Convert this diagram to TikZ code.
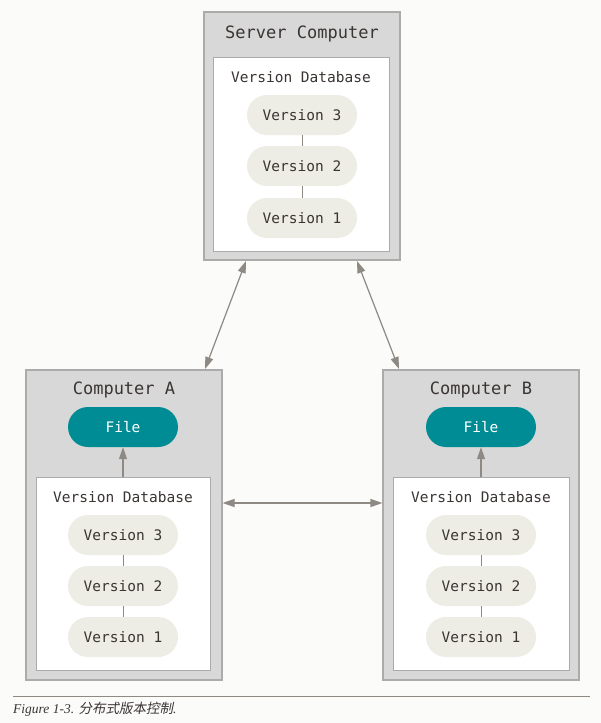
\documentclass[tikz,border=0pt]{standalone}
\usepackage{fontspec}
\setmonofont{DejaVu Sans Mono}
\setmainfont{Liberation Serif}
\newfontfamily\cjk[FakeSlant=0.2]{Noto Sans CJK SC}
\usetikzlibrary{arrows.meta}
\definecolor{bgc}{HTML}{FBFBF9}
\definecolor{outerc}{HTML}{D8D8D8}
\definecolor{outerb}{HTML}{ABABAB}
\definecolor{pillc}{HTML}{EDECE5}
\definecolor{tealc}{HTML}{008C95}
\definecolor{arrc}{HTML}{8E8983}
\definecolor{txtc}{HTML}{3A3533}
\tikzset{
  outerbox/.style={draw=outerb, fill=outerc, line width=1.2pt, inner sep=0pt},
  innerbox/.style={draw=outerb, fill=white, line width=1pt, inner sep=0pt},
  pill/.style={fill=pillc, rounded corners=20pt, minimum width=110pt, minimum height=40pt, inner sep=0pt, font=\ttfamily\fontsize{14.5}{16}\selectfont, text=txtc},
  filepill/.style={pill, fill=tealc, text=white},
  title/.style={font=\ttfamily\fontsize{17}{19}\selectfont, text=txtc, inner sep=0pt},
  dbtitle/.style={font=\ttfamily\fontsize{14.5}{16}\selectfont, text=txtc, inner sep=0pt},
  link/.style={draw=arrc, line width=1pt},
  arr/.style={draw=arrc, line width=1.2pt, {Triangle[length=12pt,width=8pt]}-{Triangle[length=12pt,width=8pt]}},
  uparr/.style={draw=arrc, line width=1.2pt, -{Triangle[length=12pt,width=8pt]}},
}
\begin{document}
\begin{tikzpicture}[x=1pt,y=-1pt]
\fill[bgc] (0,0) rectangle (601,723);
\useasboundingbox (0,0) rectangle (601,723);
% Server
\node[outerbox, minimum width=196pt, minimum height=248pt] (srv) at (302,136) {};
\node[innerbox, minimum width=176pt, minimum height=194pt] (srvdb) at (301,154) {};
\node[title] (srvt) at (302,34) {Server Computer};
\node[dbtitle] (srvdbt) at (301,77) {Version Database};
\node[pill] (s3) at (302,115) {Version 3};
\node[pill] (s2) at (302,166) {Version 2};
\node[pill] (s1) at (302,218) {Version 1};
\draw[link] (s3) -- (s2);
\draw[link] (s2) -- (s1);
% Computer A
\node[outerbox, minimum width=196pt, minimum height=310pt] (ca) at (124,525) {};
\node[innerbox, minimum width=174pt, minimum height=193pt] (cadb) at (123,573.5) {};
\node[title] (cat) at (124,390) {Computer A};
\node[filepill] (cafile) at (123,427) {File};
\node[dbtitle] (cadbt) at (123,497) {Version Database};
\node[pill] (a3) at (123,535) {Version 3};
\node[pill] (a2) at (123,586) {Version 2};
\node[pill] (a1) at (123,637) {Version 1};
\draw[link] (a3) -- (a2);
\draw[link] (a2) -- (a1);
\draw[uparr] (cadb.north) -- (cafile.south);
% Computer B
\node[outerbox, minimum width=196pt, minimum height=310pt] (cb) at (481,525) {};
\node[innerbox, minimum width=176pt, minimum height=193pt] (cbdb) at (481,573.5) {};
\node[title] (cbt) at (481,390) {Computer B};
\node[filepill] (cbfile) at (481,427) {File};
\node[dbtitle] (cbdbt) at (481,497) {Version Database};
\node[pill] (b3) at (481,535) {Version 3};
\node[pill] (b2) at (481,586) {Version 2};
\node[pill] (b1) at (481,637) {Version 1};
\draw[link] (b3) -- (b2);
\draw[link] (b2) -- (b1);
\draw[uparr] (cbdb.north) -- (cbfile.south);
% connectors
\coordinate (sa) at (246,261);
\coordinate (sb) at (357,261);
\coordinate (ta) at (205,369);
\coordinate (tb) at (399,369);
\draw[arr] (sa) -- (ta);
\draw[arr] (sb) -- (tb);
\draw[arr] (ca.east |- 0,503) -- (cb.west |- 0,503);
% caption
\coordinate (cl) at (13,696);
\coordinate (cr) at (590,696);
\draw[draw=arrc, line width=1pt] (cl) -- (cr);
\node[anchor=west, inner sep=0pt, text=txtc, font=\fontsize{13.5}{15}\selectfont] (cap) at (13,709) {\textit{Figure 1-3.} {\cjk 分布式版本控制}\textit{.}};
\end{tikzpicture}
\end{document}
